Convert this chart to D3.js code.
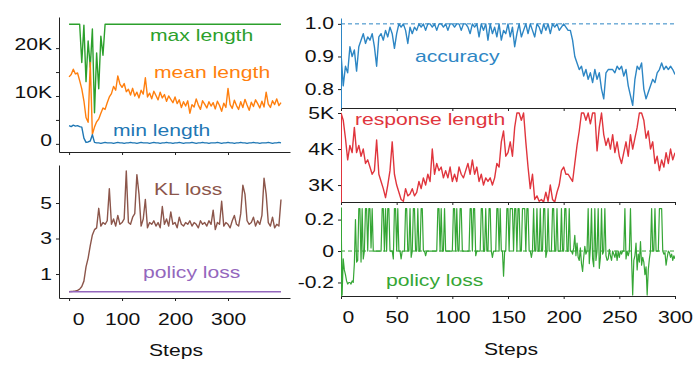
<!DOCTYPE html>
<html>
<head>
<meta charset="utf-8">
<script src="https://cdn.jsdelivr.net/npm/d3@7"></script>
<style>
body { margin: 0; background: #fff; }
text { font-family: "Liberation Sans", Arial, Helvetica, sans-serif; }
</style>
</head>
<body>
<div id="chart"></div>
<script>
// ---- data ----

// left column: steps every 4
var stepsLeft = d3.range(0, 401, 4);

// lengths in K tokens
var maxLength = [
  25.0, 25.0, 25.0, 25.0, 25.0, 25.0, 17.0, 24.8, 13.0, 21.5,
  16.0, 24.0, 6.5, 19.0, 11.5, 22.5, 18.5, 25.0, 25.0, 25.0,
  25.0, 25.0, 25.0, 25.0, 25.0, 25.0, 25.0, 25.0, 25.0, 25.0,
  25.0, 25.0, 25.0, 25.0, 25.0, 25.0, 25.0, 25.0, 25.0, 25.0,
  25.0, 25.0, 25.0, 25.0, 25.0, 25.0, 25.0, 25.0, 25.0, 25.0,
  25.0, 25.0, 25.0, 25.0, 25.0, 25.0, 25.0, 25.0, 25.0, 25.0,
  25.0, 25.0, 25.0, 25.0, 25.0, 25.0, 25.0, 25.0, 25.0, 25.0,
  25.0, 25.0, 25.0, 25.0, 25.0, 25.0, 25.0, 25.0, 25.0, 25.0,
  25.0, 25.0, 25.0, 25.0, 25.0, 25.0, 25.0, 25.0, 25.0, 25.0,
  25.0, 25.0, 25.0, 25.0, 25.0, 25.0, 25.0, 25.0, 25.0, 25.0,
  25.0
];
var meanLength = [
  14.0, 14.5, 15.6, 14.6, 14.8, 13.2, 11.5, 9.0, 5.5, 4.5,
  17.0, 2.0, 3.5, 4.6, 5.2, 6.4, 7.5, 7.2, 8.6, 9.8,
  10.5, 12.0, 11.2, 14.2, 12.5, 11.8, 12.6, 10.9, 11.4, 10.2,
  11.6, 10.0, 10.8, 9.6, 11.2, 10.4, 13.8, 9.8, 10.6, 9.4,
  11.0, 10.1, 9.2, 10.8, 9.6, 10.3, 8.9, 10.0, 9.3, 8.6,
  9.8, 8.4, 9.2, 7.6, 8.8, 7.9, 9.0, 6.4, 8.2, 7.7,
  9.4, 8.1, 7.2, 9.0, 8.3, 7.5, 8.8, 7.9, 8.6, 7.3,
  8.9, 8.0, 6.8, 8.5, 7.6, 11.6, 8.2, 7.4, 9.1, 8.0,
  7.2, 8.8, 7.6, 9.3, 8.1, 7.0, 8.7, 7.8, 9.2, 8.4,
  7.5, 8.9, 7.7, 10.8, 8.3, 7.6, 9.0, 8.2, 9.4, 8.0,
  8.6
];
var minLength = [
  3.8, 3.6, 3.9, 3.7, 3.8, 3.6, 3.5, 1.2, 0.3, 0.4,
  0.6, 1.9, 0.3, 0.2, 0.2, 0.1, 0.2, 0.3, 0.2, 0.2,
  0.2, 0.1, 0.2, 0.3, 0.2, 0.2, 0.1, 0.2, 0.2, 0.3,
  0.2, 0.2, 0.1, 0.2, 0.3, 0.2, 0.2, 0.2, 0.1, 0.2,
  0.3, 0.2, 0.2, 0.1, 0.2, 0.2, 0.3, 0.2, 0.2, 0.1,
  0.2, 0.2, 0.3, 0.2, 0.1, 0.2, 0.2, 0.2, 0.3, 0.2,
  0.1, 0.2, 0.2, 0.3, 0.2, 0.2, 0.1, 0.2, 0.2, 0.2,
  0.3, 0.2, 0.1, 0.2, 0.2, 0.3, 0.2, 0.2, 0.1, 0.2,
  0.2, 0.3, 0.2, 0.2, 0.1, 0.2, 0.2, 0.3, 0.2, 0.2,
  0.1, 0.2, 0.2, 0.2, 0.3, 0.2, 0.1, 0.2, 0.2, 0.3,
  0.2
];
var klLoss = [
  0.0, 0.02, 0.03, 0.05, 0.08, 0.15, 0.3, 0.6, 1.4, 1.9,
  2.6, 3.2, 3.5, 3.6, 4.7, 3.7, 3.9, 3.8, 4.0, 5.8,
  3.8, 4.1, 3.7, 4.3, 3.8, 3.9, 4.1, 6.8, 3.9, 3.8,
  4.2, 4.4, 6.6, 5.5, 3.7, 4.1, 5.2, 3.6, 3.9, 3.8,
  4.0, 3.7, 3.9, 3.6, 4.8, 3.8, 4.1, 3.7, 4.5, 3.8,
  3.9, 3.6, 4.2, 3.8, 3.7, 3.9, 3.8, 4.0, 3.7, 3.9,
  3.8, 3.6, 4.0, 3.8, 3.9, 3.7, 4.0, 3.8, 4.6, 3.5,
  3.9, 3.8, 5.1, 3.7, 3.9, 3.8, 3.6, 4.0, 4.3, 3.8,
  3.7, 4.4, 6.0, 5.5, 4.0, 3.8, 3.9, 4.2, 3.7, 4.0,
  3.8, 4.3, 6.4, 5.5, 3.9, 3.7, 4.2, 3.6, 3.8, 3.7,
  5.2
];
var policyLeftSteps = [0, 100, 200, 300, 400];
var policyLossLeft = [0, 0, 0, 0, 0];

// right column: steps every 2 (policy loss every step)
var stepsRight = d3.range(0, 301, 2);
var stepsPolicy = d3.range(0, 301, 1);

var accuracy = [
  0.91, 0.81, 0.87, 0.85, 0.93, 0.90, 0.92, 0.855, 0.93, 0.95,
  0.97, 0.94, 0.96, 0.95, 0.97, 0.93, 0.87, 0.96, 0.97, 0.95,
  0.98, 0.96, 0.99, 0.97, 0.925, 0.97, 1.0, 0.99, 1.0, 0.98,
  0.94, 0.99, 0.97, 0.99, 0.98, 1.0, 0.99, 1.0, 0.98, 1.0,
  1.0, 0.99, 1.0, 0.98, 1.0, 1.0, 0.99, 1.0, 0.98, 1.0,
  1.0, 0.99, 1.0, 1.0, 0.98, 1.0, 1.0, 0.99, 0.97, 1.0,
  0.99, 1.0, 0.96, 1.0, 0.98, 1.0, 0.95, 1.0, 0.97, 0.99,
  0.96, 1.0, 0.95, 0.98, 0.97, 1.0, 0.96, 0.99, 0.93, 0.97,
  1.0, 0.96, 0.98, 1.0, 0.97, 1.0, 0.98, 0.96, 1.0, 0.99,
  0.97, 1.0, 0.98, 1.0, 0.97, 1.0, 0.99, 1.0, 0.98, 0.99,
  1.0, 0.99, 0.98, 0.98, 0.95, 0.90, 0.88, 0.86, 0.87, 0.84,
  0.86, 0.83, 0.85, 0.82, 0.86, 0.83, 0.85, 0.80, 0.77, 0.85,
  0.86, 0.86, 0.86, 0.85, 0.87, 0.86, 0.87, 0.84, 0.86, 0.81,
  0.78, 0.75, 0.83, 0.87, 0.86, 0.88, 0.80, 0.77, 0.79, 0.81,
  0.83, 0.82, 0.85, 0.86, 0.88, 0.86, 0.87, 0.86, 0.87, 0.86,
  0.845
];
// response length in K tokens
var responseLength = [
  5.0, 4.8, 4.3, 3.7, 4.1, 3.9, 4.6, 3.9, 4.1, 3.8,
  4.0, 3.6, 3.7, 3.5, 3.3, 3.4, 4.25, 3.3, 3.1, 2.9,
  2.65, 3.0, 3.4, 4.2, 3.3, 3.0, 2.8, 2.6, 2.55, 2.9,
  2.7, 2.75, 2.9, 2.7, 2.8, 3.1, 2.9, 3.2, 3.0, 3.3,
  3.1, 4.0, 3.3, 3.6, 3.4, 3.5, 3.2, 3.4, 3.2, 3.5,
  3.1, 3.3, 3.1, 3.5, 3.3, 3.2, 3.4, 3.6, 3.3, 3.7,
  3.3, 3.5, 3.1, 3.3, 3.0, 3.2, 3.1, 3.2, 3.0, 3.2,
  3.6, 3.5, 4.2, 4.5, 3.8, 3.9, 4.2, 3.8, 4.6, 5.0,
  5.0, 4.8, 5.0, 4.2, 3.5, 2.9, 3.3, 2.6, 2.7, 2.55,
  2.6, 2.53, 2.8, 2.55, 3.0, 2.6, 2.53, 2.8, 3.0, 3.4,
  3.5, 3.3, 3.3, 3.2, 3.1, 3.6, 4.1, 4.5, 5.0, 5.0,
  4.8, 5.0, 4.7, 5.0, 5.0, 3.95, 4.6, 5.0, 4.4, 4.1,
  4.3, 4.0, 4.4, 3.9, 4.2, 3.8, 3.6, 3.9, 4.2, 3.8,
  4.4, 4.0, 4.3, 4.6, 5.0, 5.0, 4.8, 4.3, 4.5, 4.0,
  4.2, 3.6, 3.8, 3.4, 3.7, 3.5, 3.9, 3.6, 4.0, 3.7,
  3.9
];
var policyLossRight = [
  0.27, -0.28, -0.05, -0.12, -0.15, -0.19, -0.21, -0.2, -0.2, -0.21,
  -0.19, -0.2, -0.08, 0.2, -0.07, -0.06, 0.27, 0.27, -0.07, 0.27,
  -0.05, 0, 0.27, 0.27, 0, 0.27, 0.27, 0.02, 0.27, 0,
  0, 0, 0, 0, 0, 0, 0, 0.27, 0.27, 0,
  0.27, 0, 0.27, 0.27, 0, 0, 0, -0.05, 0.27, 0.27,
  0, 0.27, 0, 0, -0.05, 0, 0, 0, 0.27, 0.27,
  0, 0, 0.27, -0.04, 0, 0.27, 0.27, 0, 0, 0.27,
  0, 0, 0.27, 0.27, 0, 0, -0.03, 0, 0, 0,
  0, 0, 0, 0, 0, 0, 0, 0.27, 0.27, 0,
  0.27, 0, 0, 0.27, 0, 0, 0, 0, 0, 0,
  0, 0.27, 0.27, 0, 0.27, 0, 0, 0.27, 0.27, 0,
  0, 0, 0, 0, 0, 0, 0.27, 0.27, 0, 0.27,
  0.27, -0.03, 0, 0, 0, 0, 0.27, 0.27, 0, 0,
  0.27, 0, 0, 0.27, 0.27, 0, -0.04, 0, 0, 0,
  0.27, 0.27, 0, 0.27, 0, 0, -0.16, 0, 0, 0.27,
  0.27, 0, 0.27, 0.27, 0.27, 0, 0.27, 0.27, 0, 0.27,
  0.27, 0, 0, 0.27, 0.27, 0.27, 0, 0.27, 0.27, 0,
  0, -0.04, 0, 0.27, 0, 0, 0.27, 0, 0, 0.27,
  0, 0, 0.27, 0.27, -0.04, 0, 0.27, 0, 0, 0,
  0.27, 0.27, 0, 0, 0.27, 0, 0, 0, 0.27, 0,
  0, 0.27, 0.27, 0, 0, 0.27, 0, 0, -0.02, 0.02,
  0.1, -0.03, 0.05, -0.04, -0.06, 0.02, -0.08, -0.13, -0.04, 0.03,
  -0.02, 0, 0.27, -0.08, 0.02, 0.27, -0.05, -0.1, 0.27, -0.06,
  0, 0.27, -0.11, -0.04, 0.27, -0.02, 0, 0.27, -0.03, -0.06,
  -0.05, 0.01, -0.03, -0.06, 0, -0.02, -0.04, 0, -0.06, 0,
  -0.04, 0, -0.02, 0, 0, 0.27, -0.05, 0, -0.03, 0,
  0.27, -0.05, -0.28, -0.06, -0.03, 0.05, -0.12, -0.02, -0.07, 0.06,
  -0.09, -0.04, -0.07, -0.15, -0.1, -0.28, -0.12, -0.05, 0, 0.27,
  0, 0, 0.27, 0, 0, 0, 0.27, 0.27, 0.27, 0,
  -0.02, -0.01, -0.09, -0.04, 0, -0.01, -0.04, -0.02, -0.06, -0.03,
  -0.05
];

// tick values
var leftStepTicks = [0, 100, 200, 300];
var rightStepTicks = [0, 50, 100, 150, 200, 250, 300];
var lengthTicks = [0, 5, 10, 15, 20];
var klTicks = [1, 3, 5];
var accTicks = [0.8, 0.9, 1.0];
var respTicks = [3, 4, 5];
var plossTicks = [-0.2, 0, 0.2];

// ---- drawing ----
var SX = 1.32; // the figure's lettering is stretched sideways

var svg = d3.select("#chart").append("svg")
  .attr("width", 698)
  .attr("height", 366);

function panel(id, box, xDom, yDom) {
  var x = d3.scaleLinear().domain(xDom).range([box.left, box.right]);
  var y = d3.scaleLinear().domain(yDom).range([box.bottom, box.top]);
  svg.append("clipPath").attr("id", id).append("rect")
    .attr("x", box.left).attr("y", box.top - 2)
    .attr("width", box.right - box.left).attr("height", box.bottom - box.top + 2);
  var plot = svg.append("g").attr("clip-path", "url(#" + id + ")");
  return { x: x, y: y, plot: plot };
}

function series(p, steps, values, color, width) {
  var line = d3.line()
    .x(function(d, i) { return p.x(steps[i]); })
    .y(function(d) { return p.y(d); });
  p.plot.append("path")
    .datum(values)
    .attr("fill", "none")
    .attr("stroke", color)
    .attr("stroke-width", width || 1.4)
    .attr("stroke-linejoin", "round")
    .attr("d", line);
}

function refLine(p, value, color) {
  var xs = p.x.domain();
  p.plot.append("line")
    .attr("x1", p.x(xs[0])).attr("x2", p.x(xs[1]))
    .attr("y1", p.y(value)).attr("y2", p.y(value))
    .attr("stroke", color).attr("stroke-width", 1)
    .attr("stroke-dasharray", "4,3");
}

function widen(g) {
  g.attr("font-size", 16).attr("font-family", null);
  g.selectAll(".tick text").attr("fill", "#111").each(function() {
    var t = d3.select(this);
    t.attr("x", (+t.attr("x") || 0) / SX).attr("transform", "scale(" + SX + ",1)");
  });
  g.selectAll(".tick line").attr("stroke", "#222");
  g.select(".domain").attr("stroke", "#222");
}

function xAxis(p, ticks, labelled, firstShift) {
  var g = svg.append("g")
    .attr("transform", "translate(0," + p.y.range()[0] + ")")
    .call(d3.axisBottom(p.x).tickValues(ticks).tickSize(3).tickSizeOuter(0)
      .tickPadding(13).tickFormat(labelled ? d3.format("d") : ""));
  widen(g);
  if (firstShift) {
    g.selectAll(".tick text").filter(function(d) { return d === 0; })
      .attr("dx", firstShift / SX);
  }
}

function yAxis(p, ticks, fmt, color, dy) {
  var g = svg.append("g")
    .attr("transform", "translate(" + p.x.range()[0] + ",0)")
    .call(d3.axisLeft(p.y).tickValues(ticks).tickSize(3).tickSizeOuter(0)
      .tickPadding(4).tickFormat(fmt));
  widen(g);
  g.select(".domain").attr("stroke", color);
  if (dy) g.selectAll(".tick text").attr("dy", dy);
}

function note(str, x, y, color, anchor) {
  svg.append("text")
    .attr("transform", "translate(" + x + "," + y + ") scale(" + SX + ",1)")
    .attr("text-anchor", anchor || "start")
    .attr("fill", color)
    .attr("font-size", 16)
    .text(str);
}

// left top: lengths
var lt = panel("clipLT", { left: 59, right: 290, top: 17, bottom: 152 }, [-19, 417], [-1.7, 26.5]);
series(lt, stepsLeft, maxLength, "#2ca02c");
series(lt, stepsLeft, meanLength, "#ff7f0e");
series(lt, stepsLeft, minLength, "#1f77b4");
xAxis(lt, leftStepTicks, false);
yAxis(lt, lengthTicks, function(d) { return d % 10 ? "" : (d ? d + "K" : "0"); }, "#222", "0.1em");
note("max length", 150, 40.5, "#2ca02c");
note("mean length", 154, 77.5, "#ff7f0e");
note("min length", 113, 136, "#1f77b4");

// left bottom: losses
var lb = panel("clipLB", { left: 59, right: 290, top: 165, bottom: 298 }, [-19, 417], [-0.35, 7.14]);
series(lb, stepsLeft, klLoss, "#8c564b");
series(lb, policyLeftSteps, policyLossLeft, "#9467bd");
xAxis(lb, leftStepTicks, true, 9);
yAxis(lb, klTicks, d3.format("d"), "#222");
note("KL loss", 154, 195, "#8c564b");
note("policy loss", 143, 278, "#9467bd");
note("Steps", 176, 356, "#111", "middle");

// right top: accuracy
var ra = panel("clipRA", { left: 341, right: 675, top: 18, bottom: 108 }, [0, 300], [0.742, 1.018]);
refLine(ra, 1.0, "#2d86c4");
series(ra, stepsRight, accuracy, "#2d86c4");
xAxis(ra, rightStepTicks, false);
yAxis(ra, accTicks, d3.format(".1f"), "#2d86c4");
note("accuracy", 415, 62, "#2d86c4");

// right middle: response length
var rr = panel("clipRR", { left: 341, right: 675, top: 113, bottom: 202 }, [0, 300], [2.53, 5.0]);
series(rr, stepsRight, responseLength, "#e0353d");
xAxis(rr, rightStepTicks, false);
yAxis(rr, respTicks, function(d) { return d + "K"; }, "#e0353d");
note("response length", 355, 125, "#e0353d");

// right bottom: policy loss
var rp = panel("clipRP", { left: 341, right: 675, top: 207, bottom: 296 }, [0, 300], [-0.286, 0.28]);
refLine(rp, 0, "#35a635");
series(rp, stepsPolicy, policyLossRight, "#35a635", 1.2);
xAxis(rp, rightStepTicks, true, 7);
yAxis(rp, plossTicks, function(d) { return d === 0 ? "0" : d.toFixed(1); }, "#35a635");
note("policy loss", 386, 286, "#35a635");
note("Steps", 511, 355, "#111", "middle");
</script>
</body>
</html>
